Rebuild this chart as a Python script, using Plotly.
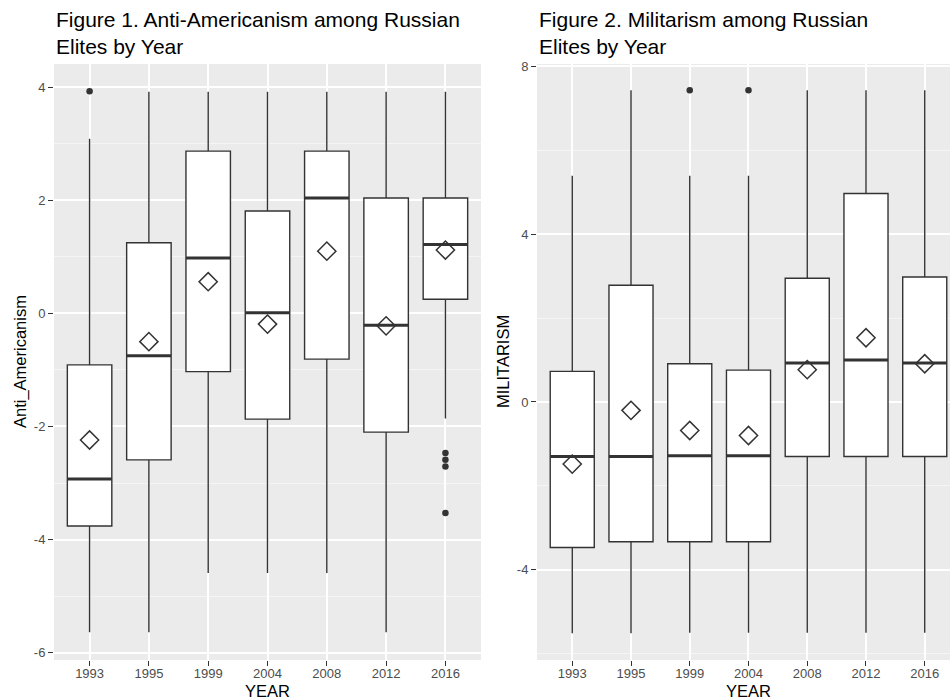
import plotly.graph_objects as go

# ---------------- data ----------------
years = ["1993", "1995", "1999", "2004", "2008", "2012", "2016"]

# Figure 1: Anti-Americanism
anti_lower  = [-5.64, -5.64, -4.59, -4.59, -4.59, -5.64, -1.86]
anti_q1     = [-3.76, -2.59, -1.03, -1.87, -0.81, -2.10, 0.25]
anti_median = [-2.93, -0.75, 0.98, 0.01, 2.04, -0.21, 1.22]
anti_q3     = [-0.91, 1.25, 2.87, 1.81, 2.87, 2.04, 2.04]
anti_upper  = [3.09, 3.92, 3.92, 3.92, 3.92, 3.92, 3.92]
anti_mean   = [-2.24, -0.50, 0.56, -0.19, 1.10, -0.22, 1.12]
anti_out_year = ["1993", "2016", "2016", "2016", "2016"]
anti_out_val  = [3.93, -2.47, -2.59, -2.71, -3.53]
anti_ticks = [-6, -4, -2, 0, 2, 4]
anti_tick_labels = ["-6", "-4", "-2", "0", "2", "4"]

# Figure 2: Militarism
mil_lower  = [-5.51, -5.51, -5.50, -5.50, -5.50, -5.50, -5.50]
mil_q1     = [-3.47, -3.33, -3.33, -3.33, -1.30, -1.30, -1.30]
mil_median = [-1.30, -1.30, -1.28, -1.28, 0.93, 1.00, 0.93]
mil_q3     = [0.73, 2.78, 0.91, 0.76, 2.95, 4.97, 2.98]
mil_upper  = [5.39, 7.43, 5.39, 5.39, 7.43, 7.43, 7.43]
mil_mean   = [-1.48, -0.20, -0.68, -0.80, 0.77, 1.53, 0.91]
mil_out_year = ["1999", "2004"]
mil_out_val  = [7.43, 7.43]
mil_ticks = [-4, 0, 4, 8]
mil_tick_labels = ["-4", "0", "4", "8"]

titles = ["Figure 1. Anti-Americanism among Russian<br>Elites by Year",
          "Figure 2. Militarism among Russian<br>Elites by Year"]
y_titles = ["Anti_Americanism", "MILITARISM"]
x_title = "YEAR"

# ---------------- styling ----------------
FONT = "Liberation Sans, Arial, Helvetica, sans-serif"
W, H = 950, 700
BOXW = 0.75
LINE = "#333333"

fig = go.Figure()

pos = list(range(len(years)))
idx = {y: i for i, y in enumerate(years)}


def add_panel(n, lower, q1, med, q3, upper, mean, out_year, out_val):
    xa = "x" if n == 1 else "x2"
    ya = "y" if n == 1 else "y2"
    fig.add_trace(go.Box(
        x=pos, q1=q1, median=med, q3=q3, lowerfence=lower, upperfence=upper,
        width=BOXW, whiskerwidth=0, fillcolor="white", boxpoints=False,
        line=dict(color=LINE, width=1.4), xaxis=xa, yaxis=ya,
        showlegend=False, hoverinfo="skip"))
    # thicker median line (ggplot fatten)
    mx, my = [], []
    for i, m in zip(pos, med):
        mx += [i - BOXW / 2, i + BOXW / 2, None]
        my += [m, m, None]
    fig.add_trace(go.Scatter(x=mx, y=my, mode="lines",
                             line=dict(color=LINE, width=3),
                             xaxis=xa, yaxis=ya, showlegend=False,
                             hoverinfo="skip"))
    # outliers
    fig.add_trace(go.Scatter(x=[idx[y] for y in out_year], y=out_val,
                             mode="markers",
                             marker=dict(color=LINE, size=6.5),
                             xaxis=xa, yaxis=ya, showlegend=False,
                             hoverinfo="skip"))
    # means
    fig.add_trace(go.Scatter(x=pos, y=mean, mode="markers",
                             marker=dict(symbol="diamond-open", size=14,
                                         color=LINE, line=dict(width=1.5, color=LINE)),
                             xaxis=xa, yaxis=ya, showlegend=False,
                             hoverinfo="skip"))


add_panel(1, anti_lower, anti_q1, anti_median, anti_q3, anti_upper,
          anti_mean, anti_out_year, anti_out_val)
add_panel(2, mil_lower, mil_q1, mil_median, mil_q3, mil_upper,
          mil_mean, mil_out_year, mil_out_val)

ydom = [1 - 660 / H, 1 - 64 / H]

common_x = dict(tickmode="array", tickvals=pos, ticktext=years,
                showgrid=True, gridcolor="white", gridwidth=1.5,
                zeroline=False, ticks="outside", ticklen=5, tickwidth=1.2,
                tickcolor=LINE, tickfont=dict(family=FONT, size=13, color="#4D4D4D"),
                ticklabelstandoff=-4,
                showline=False, automargin=False)
common_y = dict(tickmode="array", showgrid=True, gridcolor="white", gridwidth=1.5,
                zeroline=False, ticks="outside", ticklen=5, tickwidth=1.2,
                tickcolor=LINE, tickfont=dict(family=FONT, size=13, color="#4D4D4D"),
                showline=False, automargin=False)

fig.update_layout(
    width=W, height=H,
    margin=dict(l=0, r=0, t=0, b=0, autoexpand=False),
    paper_bgcolor="white", plot_bgcolor="#EBEBEB",
    xaxis=dict(domain=[54 / W, 481 / W], range=[-0.6, 6.6], anchor="y", **common_x),
    xaxis2=dict(domain=[537 / W, 1.0], range=[-0.6, 6.43], anchor="y2", **common_x),
    yaxis=dict(domain=ydom, range=[-6.13, 4.41], anchor="x",
               tickvals=anti_ticks, ticktext=anti_tick_labels,
               minor=dict(tickvals=[-5, -3, -1, 1, 3], showgrid=True,
                          gridcolor="#F5F5F5", gridwidth=0.8, ticks=""),
               **common_y),
    yaxis2=dict(domain=ydom, range=[-6.15, 8.055], anchor="x2",
                tickvals=mil_ticks, ticktext=mil_tick_labels,
                minor=dict(tickvals=[-6, -2, 2, 6], showgrid=True,
                           gridcolor="#F5F5F5", gridwidth=0.8, ticks=""),
                **common_y),
)

ann = []
# titles
for t, xpx in zip(titles, [54, 537]):
    ann.append(dict(text=t, x=xpx / W, y=1 - 32.5 / H, xref="paper", yref="paper",
                    xanchor="left", yanchor="middle", align="left", showarrow=False,
                    font=dict(family=FONT, size=21, color="black")))
# y axis titles
for t, xpx in zip(y_titles, [20, 503]):
    ann.append(dict(text=t, x=xpx / W, y=1 - 362 / H, xref="paper", yref="paper",
                    xanchor="center", yanchor="middle", textangle=-90, showarrow=False,
                    font=dict(family=FONT, size=16.5, color="black")))
# x axis titles
for xpx in [267.5, 748]:
    ann.append(dict(text=x_title, x=xpx / W, y=1 - 691 / H, xref="paper", yref="paper",
                    xanchor="center", yanchor="middle", showarrow=False,
                    font=dict(family=FONT, size=16.5, color="black")))
fig.update_layout(annotations=ann)

fig.write_html("out.html", config={"displayModeBar": False},
               post_script="document.body.style.margin='0';"
                           "document.body.style.overflow='hidden';")
